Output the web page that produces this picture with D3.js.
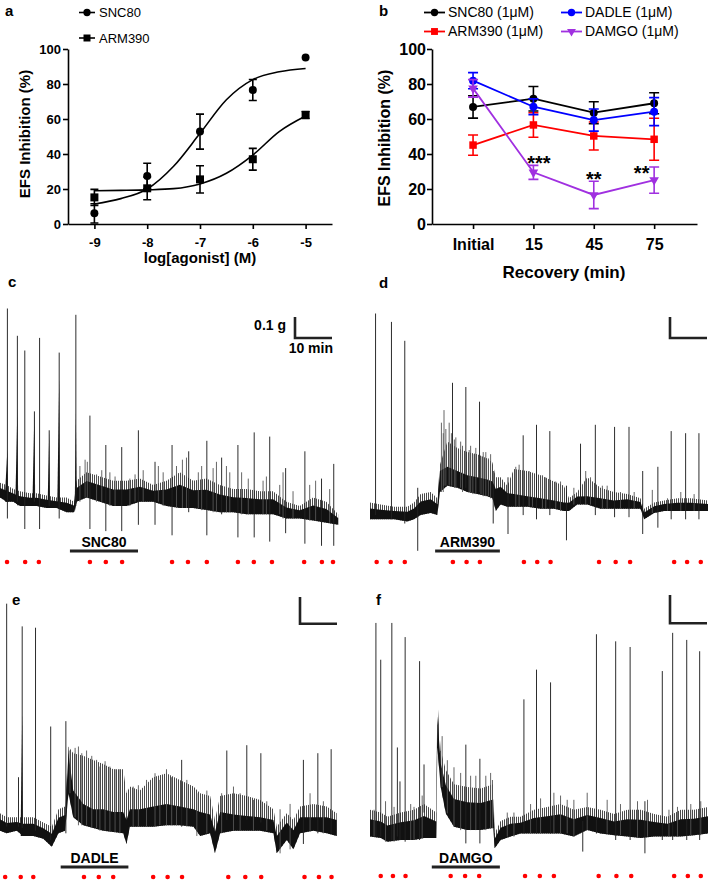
<!DOCTYPE html>
<html>
<head>
<meta charset="utf-8">
<script src="https://cdn.jsdelivr.net/npm/d3@7"></script>
<style>
  body { margin: 0; background: #fff; }
  svg text { font-family: "Liberation Sans", Arial, sans-serif; }
</style>
</head>
<body>
<svg id="fig" width="708" height="881"></svg>
<script>

// ---- panel a: concentration-response
let doses = [-9, -8, -7, -6, -5]
let snc80Mean = [6.1, 27.4, 52.8, 76.6, 95.2]
let snc80Err = [5.5, 7.3, 10, 6, 0]
let arm390Mean = [15.2, 20.4, 25.5, 37.0, 62.3]
let arm390Err = [4.6, 6.5, 7.8, 6.2, 2]
let fitDoses = [-9, -8.5, -8, -7.5, -7, -6.5, -6, -5.5, -5]
let snc80Fit = [11.4, 14.5, 20, 33, 51.8, 71, 82.5, 87, 88.9]
let arm390Fit = [19, 19.2, 19.5, 20.2, 22.9, 29, 39.4, 52.8, 61.7]
let pctTicks = [0, 20, 40, 60, 80, 100]

// ---- panel b: recovery
let times = ["Initial", "15", "45", "75"]
let sncRecMean = [66.9, 71.6, 63.6, 69.0]
let sncRecErr = [6.4, 7, 6.3, 6]
let armRecMean = [45.1, 56.6, 50.3, 48.4]
let armRecErr = [5.8, 7, 8, 12]
let dadleRecMean = [81.9, 67.0, 59.4, 64.2]
let dadleRecErr = [4.6, 4.5, 6.3, 8]
let damgoRecMean = [77.5, 29.5, 16.6, 25.1]
let damgoRecErr = [5, 4, 7.8, 7.5]
let starText = ["***", "**", "**"]
let starTime = [1, 2, 3]
let starValue = [37.7, 28.3, 31.7]

// ---- panels c-f: tension traces, time in min, tension in g
// band rows: [min, top g, bottom g, (dark core top g)]
let sncBand = [[0,0.32,0.25],[1.8,0.31,0.23],[3.6,0.29,0.23],[5.4,0.28,0.21],[8.1,0.27,0.21],[9.9,0.27,0.21],[12.6,0.26,0.20],[15.3,0.25,0.20],[18.0,0.25,0.18],[20.0,0.23,0.18],[20.7,0.33,0.23],[23.4,0.37,0.25],[27.0,0.35,0.23],[30.6,0.33,0.21],[34.2,0.33,0.21],[37.8,0.34,0.23],[41.4,0.31,0.23],[45.0,0.33,0.21],[48.6,0.37,0.20],[52.2,0.33,0.20],[55.8,0.34,0.19],[59.4,0.31,0.18],[63.0,0.29,0.18],[66.6,0.29,0.17],[70.2,0.28,0.17],[73.8,0.28,0.17],[77.4,0.23,0.15],[81.0,0.21,0.15],[84.6,0.25,0.14],[88.2,0.23,0.13],[91.4,0.17,0.12]]
let sncSpikes = [[2.0,1.15,0.15],[4.7,1.02,0.23],[6.7,0.95,0.10],[9.3,0.66,0.23],[10.7,1.01,0.10],[13.3,0.57,0.21],[16.0,0.94,0.15],[20.5,1.12,0.21],[24.3,0.64,0.10],[28.6,0.50,0.09],[32.9,0.49,0.09],[37.4,0.57,0.12],[41.9,0.42,0.12],[46.5,0.50,0.07],[51.0,0.47,0.18],[55.9,0.52,0.07],[59.9,0.44,0.17],[64.3,0.50,0.06],[68.7,0.56,0.06],[72.9,0.54,0.04],[77.2,0.39,0.08],[82.4,0.47,0.03],[86.9,0.34,0.02],[90.2,0.41,0.02]]
let sncMinor = [[21.6,0.40],[23.0,0.43],[23.6,0.42],[26.1,0.36],[27.5,0.38],[29.7,0.37],[31.1,0.35],[35.1,0.34],[36.5,0.36],[38.7,0.38],[42.8,0.40],[44.1,0.37],[47.7,0.40],[49.3,0.43],[50.4,0.44],[53.6,0.37],[54.5,0.40],[57.6,0.39],[58.5,0.42],[61.2,0.40],[62.1,0.37],[65.3,0.37],[67.1,0.34],[71.1,0.33],[72.0,0.35],[75.6,0.31],[76.5,0.37],[79.2,0.28],[83.7,0.31],[85.3,0.33],[89.1,0.29]]
let sncBumps = [[1.4,2.0,2.2,0.48],[4.2,4.7,4.9,0.68],[8.8,9.3,9.5,0.66],[12.9,13.3,13.5,0.56],[15.5,16.0,16.2,0.82],[20.2,20.5,20.7,0.65]]
let sncStim = [1.9,6.8,10.5,24.3,28.6,33.0,46.5,50.8,55.9,64.3,68.6,73.5,82.2,87.0,90.0]
let sncDrug = [18.9, 37.3]

let armBand = [[0,0.25,0.17],[2.9,0.24,0.17],[6.5,0.23,0.17],[10.1,0.23,0.16],[11.9,0.25,0.17],[13.7,0.29,0.19],[16.4,0.30,0.20],[18.2,0.27,0.19],[18.9,0.43,0.30,0.40],[20.9,0.54,0.33,0.42],[23.6,0.51,0.32,0.40],[26.3,0.49,0.30,0.38],[29.0,0.48,0.29,0.37],[31.7,0.46,0.28,0.36],[33.1,0.44,0.27,0.35],[34.0,0.37,0.21],[35.3,0.37,0.24],[37.1,0.33,0.23],[38.9,0.41,0.23,0.29],[42.5,0.40,0.23,0.28],[46.1,0.38,0.22,0.27],[49.7,0.35,0.22,0.26],[52.4,0.33,0.21,0.25],[53.8,0.27,0.21],[56.0,0.30,0.24],[58.7,0.37,0.24,0.28],[62.3,0.32,0.22,0.27],[65.9,0.30,0.22,0.26],[69.5,0.29,0.22],[73.1,0.27,0.22],[74.1,0.22,0.17],[76.8,0.25,0.20],[79.5,0.26,0.21],[83.1,0.27,0.21],[86.7,0.27,0.21],[91.4,0.26,0.21]]
let armSpikes = [[1.5,1.15,0.19],[5.8,1.11,0.17],[9.4,1.02,0.15],[12.9,0.32,0.02],[22.3,0.82,0.33],[25.9,0.80,0.32],[29.6,0.73,0.30],[33.3,0.40,0.15],[37.3,0.37,0.10],[41.4,0.57,0.19],[45.0,0.62,0.17],[48.6,0.59,0.19],[53.1,0.33,0.07],[56.9,0.53,0.24],[60.9,0.62,0.19],[66.1,0.61,0.18],[70.0,0.61,0.18],[73.7,0.40,0.10],[77.8,0.42,0.13],[81.4,0.59,0.17],[85.3,0.58,0.17],[88.9,0.58,0.17]]
let armMinor = [[19.3,0.63],[19.8,0.58],[20.0,0.69],[20.5,0.60],[21.4,0.63],[22.0,0.58],[22.8,0.55],[23.2,0.56],[24.5,0.54],[25.0,0.52],[26.8,0.50],[27.2,0.52],[27.8,0.48],[28.6,0.51],[30.0,0.47],[30.6,0.49],[31.3,0.49],[32.0,0.46],[32.6,0.48],[39.4,0.42],[40.3,0.43],[43.0,0.40],[43.9,0.38],[46.6,0.38],[47.5,0.37],[50.2,0.35],[51.5,0.35],[55.1,0.32],[58.3,0.40],[59.6,0.37],[62.8,0.33],[64.1,0.33],[67.7,0.30],[71.4,0.30],[76.3,0.31],[80.4,0.27],[84.0,0.30],[87.6,0.29]]
let armBumps = []
let armStim = [1.8,5.6,9.4,22.4,26.1,29.7,41.6,45.2,48.8,61.9,66.4,70.3,82.2,85.7,89.4]
let armDrug = [17.6, 35.1]

let dadleBand = [[0,0.175,0.11],[1.8,0.16,0.10],[4.5,0.16,0.11],[6.3,0.16,0.09],[9.0,0.16,0.09],[11.7,0.14,0.08],[14.0,0.125,0.05],[15.8,0.19,0.10],[17.6,0.20,0.11],[18.5,0.425,0.25,0.40],[19.8,0.40,0.16,0.26],[22.5,0.39,0.13,0.21],[25.2,0.375,0.12,0.19],[27.9,0.36,0.11,0.19],[30.6,0.34,0.105,0.18],[33.3,0.34,0.10,0.18],[34.2,0.25,0.06,0.15],[35.1,0.275,0.125,0.19],[37.8,0.26,0.125,0.19],[41.4,0.31,0.125,0.20],[45.0,0.325,0.13,0.21],[48.6,0.30,0.13,0.20],[52.3,0.275,0.125,0.19],[54.1,0.25,0.09,0.18],[56.8,0.24,0.10,0.17],[58.1,0.15,0.025],[59.5,0.24,0.10,0.18],[63.1,0.25,0.11,0.17],[66.7,0.24,0.11,0.165],[70.3,0.225,0.11,0.16],[73.9,0.19,0.10,0.15],[74.8,0.125,0.025],[77.5,0.175,0.075],[79.3,0.15,0.04],[81.1,0.20,0.10,0.16],[84.7,0.21,0.11,0.16],[88.3,0.20,0.10,0.16],[91.0,0.175,0.09,0.15]]
let dadleSpikes = [[1.8,0.96,0.125],[5.0,0.31,0.125],[6.0,0.875,0.12],[9.6,0.87,0.11],[13.7,0.50,0.075],[17.8,0.52,0.10],[49.1,0.375,0.125],[61.3,0.41,0.15],[66.7,0.43,0.15],[70.5,0.40,0.14],[82.0,0.375,0.06],[85.9,0.40,0.10],[89.5,0.415,0.10]]
let dadleMinor = [[18.9,0.41],[20.3,0.42],[21.2,0.425],[22.1,0.40],[23.4,0.41],[24.8,0.39],[26.1,0.375],[27.0,0.35],[28.4,0.37],[29.7,0.35],[31.1,0.34],[32.4,0.34],[36.0,0.275],[37.4,0.28],[39.6,0.30],[41.9,0.325],[43.2,0.30],[45.0,0.34],[46.4,0.31],[47.7,0.30],[50.5,0.30],[53.2,0.25],[55.9,0.26],[59.9,0.25],[63.1,0.275],[64.9,0.25],[68.5,0.225],[72.1,0.22],[75.7,0.19],[78.4,0.21],[83.8,0.25],[87.4,0.22]]
let dadleBumps = [[5.6,6.0,6.2,0.55]]
let dadleStim = [1.4,5.6,9.0,22.7,26.7,30.6,41.4,45.3,49.2,61.7,66.3,70.6,82.3,86.2,89.6]
let dadleDrug = [16.4, 34.7]

let damgoBand = [[0,0.16,0.065],[2.9,0.15,0.06],[4.7,0.135,0.047],[8.3,0.15,0.053],[11.9,0.16,0.053],[14.6,0.18,0.06],[17.9,0.15,0.06],[18.2,0.55,0.38],[19.1,0.37,0.24],[20.5,0.30,0.147],[22.7,0.25,0.10],[26.3,0.24,0.088],[29.9,0.235,0.088],[33.3,0.25,0.095],[33.7,0.076,0.024],[35.3,0.12,0.053],[38.0,0.135,0.065],[40.7,0.135,0.076],[44.3,0.16,0.076],[47.9,0.17,0.076],[51.5,0.18,0.076],[55.1,0.16,0.065],[58.7,0.17,0.088],[62.3,0.16,0.076],[66.0,0.145,0.07],[69.5,0.16,0.065],[73.2,0.16,0.06],[76.8,0.145,0.065],[80.4,0.135,0.065],[84.0,0.16,0.065],[87.6,0.16,0.07],[91.4,0.17,0.076]]
let damgoSpikes = [[1.6,0.82,0.065],[2.9,0.69,0.065],[5.9,0.82,0.053],[7.4,0.38,0.065],[8.1,0.26,0.053],[9.5,0.77,0.047],[13.4,0.685,0.053],[14.6,0.32,0.15],[25.9,0.39,0.041],[29.7,0.34,0.041],[41.6,0.55,0.076],[45.0,0.655,0.076],[48.8,0.61,0.076],[57.5,0.12,0.012],[61.2,0.78,0.076],[66.4,0.755,0.053],[70.3,0.735,0.053],[74.3,0.19,0.006],[79.0,0.65,0.053],[81.8,0.785,0.053],[85.6,0.76,0.053],[89.1,0.72,0.053]]
let damgoMinor = [[1.1,0.16],[4.2,0.19],[6.5,0.17],[11.0,0.18],[11.9,0.17],[14.1,0.21],[19.5,0.42],[20.9,0.335],[22.7,0.31],[24.5,0.29],[27.2,0.28],[28.6,0.28],[31.3,0.28],[32.6,0.29],[33.1,0.265],[37.1,0.15],[38.9,0.15],[43.4,0.18],[46.1,0.20],[49.7,0.22],[51.5,0.21],[53.3,0.195],[55.1,0.195],[58.7,0.22],[64.1,0.195],[67.7,0.18],[72.3,0.19],[75.0,0.195],[80.8,0.16],[83.1,0.17],[86.7,0.18],[89.4,0.19]]
let damgoBumps = []
let damgoStim = [2.9,6.2,9.6,21.8,25.7,29.5,41.9,45.9,49.7,61.8,66.6,70.6,82.2,85.9,89.4]
let damgoDrug = [16.7, 35.1]


let svg = d3.select("#fig")
let font = '"Liberation Sans", Arial, sans-serif'

// vertical comb used for the fast, greyish oscillations of the traces
svg.append("defs").append("pattern").attr("id", "comb")
  .attr("patternUnits", "userSpaceOnUse").attr("width", 2).attr("height", 20)
  .append("rect").attr("width", 1).attr("height", 20).attr("fill", "#4a4a4a")

function styleAxis(g, size) {
  g.attr("font-family", font).attr("font-size", size).attr("font-weight", "bold")
  g.select(".domain").attr("stroke", "#000").attr("stroke-width", 1.6)
  g.selectAll(".tick line").attr("stroke", "#000").attr("stroke-width", 1.6)
  g.selectAll(".tick text").attr("fill", "#000")
}

function errorBars(g, xs, y, means, errs, colour, cap) {
  means.forEach((m, i) => {
    if (!errs[i]) return
    let x = xs[i]
    g.append("path")
      .attr("d", `M${x},${y(m - errs[i])}V${y(m + errs[i])}M${x - cap},${y(m - errs[i])}h${2 * cap}M${x - cap},${y(m + errs[i])}h${2 * cap}`)
      .attr("stroke", colour).attr("stroke-width", 1.6).attr("fill", "none")
  })
}

function marker(g, shape, colour, x, y, size) {
  let sym = {circle: d3.symbolCircle, square: d3.symbolSquare, down: d3.symbolTriangle}[shape]
  g.append("path")
    .attr("d", d3.symbol(sym, size)())
    .attr("transform", `translate(${x},${y})` + (shape == "down" ? " rotate(180)" : ""))
    .attr("fill", colour)
}

function drawPanelA() {
  let x = d3.scaleLinear().domain([-9.5, -4.5]).range([68, 332])
  let y = d3.scaleLinear().domain([0, 100]).range([224, 49])
  let g = svg.append("g")

  let xa = g.append("g").attr("transform", "translate(0,224)")
    .call(d3.axisBottom(x).tickValues(doses).tickFormat(d => String(d)).tickSize(5).tickSizeOuter(0).tickPadding(9))
  styleAxis(xa, 13)
  let ya = g.append("g").attr("transform", "translate(68,0)")
    .call(d3.axisLeft(y).tickValues(pctTicks).tickSize(5).tickSizeOuter(0).tickPadding(2))
  styleAxis(ya, 13)

  let fit = d3.line().x((d, i) => x(fitDoses[i])).y(d => y(d)).curve(d3.curveMonotoneX)
  g.append("path").datum(snc80Fit).attr("d", fit).attr("fill", "none").attr("stroke", "#000").attr("stroke-width", 1.6)
  g.append("path").datum(arm390Fit).attr("d", fit).attr("fill", "none").attr("stroke", "#000").attr("stroke-width", 1.6)

  let xs = doses.map(d => x(d))
  errorBars(g, xs, y, snc80Mean, snc80Err, "#000", 4)
  errorBars(g, xs, y, arm390Mean, arm390Err, "#000", 4)
  snc80Mean.forEach((m, i) => marker(g, "circle", "#000", xs[i], y(m), 50))
  arm390Mean.forEach((m, i) => marker(g, "square", "#000", xs[i], y(m), 64))

  // legend
  g.append("line").attr("x1", 79).attr("x2", 95).attr("y1", 12.5).attr("y2", 12.5).attr("stroke", "#000").attr("stroke-width", 1.6)
  marker(g, "circle", "#000", 87, 12.5, 42)
  g.append("text").attr("x", 99).attr("y", 17).attr("font-size", 13).text("SNC80")
  g.append("line").attr("x1", 79).attr("x2", 95).attr("y1", 38).attr("y2", 38).attr("stroke", "#000").attr("stroke-width", 1.6)
  marker(g, "square", "#000", 87, 38, 49)
  g.append("text").attr("x", 99).attr("y", 43).attr("font-size", 13).text("ARM390")

  g.append("text").attr("transform", "translate(30,134) rotate(-90)").attr("text-anchor", "middle")
    .attr("font-size", 15).attr("font-weight", "bold").text("EFS Inhibition (%)")
  g.append("text").attr("x", 200).attr("y", 263).attr("text-anchor", "middle")
    .attr("font-size", 15).attr("font-weight", "bold").text("log[agonist] (M)")
  g.append("text").attr("x", 5).attr("y", 16).attr("font-size", 15).attr("font-weight", "bold").text("a")
}

function drawPanelB() {
  let x = d3.scaleLinear().domain([-0.68, 3.71]).range([432, 697])
  let y = d3.scaleLinear().domain([0, 100]).range([224, 49])
  let g = svg.append("g")

  let xa = g.append("g").attr("transform", "translate(0,224)")
    .call(d3.axisBottom(x).tickValues(d3.range(times.length)).tickFormat(i => times[i]).tickSize(5).tickSizeOuter(0).tickPadding(10))
  styleAxis(xa, 16)
  let ya = g.append("g").attr("transform", "translate(432,0)")
    .call(d3.axisLeft(y).tickValues(pctTicks).tickSize(5).tickSizeOuter(0).tickPadding(1))
  styleAxis(ya, 16)

  let series = [
    {name: "SNC80 (1\u03bcM)", colour: "#000000", shape: "circle", size: 50, mean: sncRecMean, err: sncRecErr},
    {name: "ARM390 (1\u03bcM)", colour: "#ff0000", shape: "square", size: 56, mean: armRecMean, err: armRecErr},
    {name: "DADLE (1\u03bcM)", colour: "#0000ff", shape: "circle", size: 50, mean: dadleRecMean, err: dadleRecErr},
    {name: "DAMGO (1\u03bcM)", colour: "#a030e0", shape: "down", size: 40, mean: damgoRecMean, err: damgoRecErr}
  ]
  let xs = times.map((t, i) => x(i))
  let line = d3.line().x((d, i) => xs[i]).y(d => y(d))
  series.forEach(s => {
    g.append("path").datum(s.mean).attr("d", line).attr("fill", "none").attr("stroke", s.colour).attr("stroke-width", 1.8)
    errorBars(g, xs, y, s.mean, s.err, s.colour, 5)
    s.mean.forEach((m, i) => marker(g, s.shape, s.colour, xs[i], y(m), s.size))
  })

  // significance marks
  let starDx = [5.5, 0, -12.5]
  starText.forEach((t, k) => {
    g.append("text").attr("x", x(starTime[k]) + starDx[k]).attr("y", y(starValue[k]) + 11.5)
      .attr("text-anchor", "middle").attr("font-size", 20).attr("font-weight", "bold").text(t)
  })

  // legend, two columns
  let legendPos = [[424, 12.5], [424, 31.5], [561, 12.5], [561, 31.5]]
  series.forEach((s, k) => {
    let [lx, ly] = legendPos[k]
    g.append("line").attr("x1", lx).attr("x2", lx + 21).attr("y1", ly).attr("y2", ly).attr("stroke", s.colour).attr("stroke-width", 1.8)
    marker(g, s.shape, s.colour, lx + 10.5, ly, s.size * 0.85)
    g.append("text").attr("x", lx + 24).attr("y", ly + 4.5).attr("font-size", 14).text(s.name)
  })

  g.append("text").attr("transform", "translate(390,138) rotate(-90)").attr("text-anchor", "middle")
    .attr("font-size", 16).attr("font-weight", "bold").text("EFS Inhibition (%)")
  g.append("text").attr("x", 564).attr("y", 278).attr("text-anchor", "middle")
    .attr("font-size", 17).attr("font-weight", "bold").text("Recovery (min)")
  g.append("text").attr("x", 379).attr("y", 16).attr("font-size", 15).attr("font-weight", "bold").text("b")
}

function drawTrace(tr, fr) {
  let x = d3.scaleLinear().domain([0, 10]).range([fr.x0, fr.x0 + 37])
  let y = d3.scaleLinear().domain([0, 0.1]).range([fr.y0, fr.y0 - fr.gain])
  let g = svg.append("g")
  // solid part of the noise band; the rest up to the top is drawn as a comb
  let core = d => d.length > 3 ? d[3] : d[2] + 0.65 * (d[1] - d[2])
  let near = t => tr.band[d3.bisector(d => d[0]).center(tr.band, t)]

  g.append("path").datum(tr.band)
    .attr("d", d3.area().x(d => x(d[0])).y0(d => y(d[2])).y1(d => y(d[1])))
    .attr("fill", "url(#comb)")
  g.append("path").datum(tr.band)
    .attr("d", d3.area().x(d => x(d[0])).y0(d => y(d[2])).y1(d => y(core(d))))
    .attr("fill", "#111")

  g.selectAll(".bump").data(tr.bumps).join("path").attr("class", "bump")
    .attr("d", d => d3.line()([
      [x(d[0]), y(core(near(d[0])))], [x(d[1]), y(d[3])], [x(d[2]), y(core(near(d[2])))],
      [x(d[2]), y(near(d[2])[2])], [x(d[0]), y(near(d[0])[2])]
    ]) + "Z")
    .attr("fill", "#111")

  g.selectAll(".minor").data(tr.minor).join("line").attr("class", "minor")
    .attr("x1", d => x(d[0])).attr("x2", d => x(d[0]))
    .attr("y1", d => y(d[1])).attr("y2", d => y(near(d[0])[2]))
    .attr("stroke", "#555").attr("stroke-width", 0.9)

  g.selectAll(".spike").data(tr.spikes).join("line").attr("class", "spike")
    .attr("x1", d => x(d[0])).attr("x2", d => x(d[0]))
    .attr("y1", d => y(d[1])).attr("y2", d => y(d[2]))
    .attr("stroke", "#222").attr("stroke-width", 0.95)

  g.selectAll(".stim").data(tr.stim).join("circle").attr("class", "stim")
    .attr("cx", d => x(d)).attr("cy", fr.dotY).attr("r", 2.3).attr("fill", "#ff0000")

  g.append("line").attr("x1", x(tr.drug[0])).attr("x2", x(tr.drug[1]))
    .attr("y1", fr.barY).attr("y2", fr.barY).attr("stroke", "#222").attr("stroke-width", 3)
  g.append("text").attr("x", (x(tr.drug[0]) + x(tr.drug[1])) / 2).attr("y", fr.barY - 4)
    .attr("text-anchor", "middle").attr("font-size", 14).attr("font-weight", "bold").text(tr.label)

  // calibration: 0.1 g by 10 min
  let h = y(0) - y(0.1), w = x(10) - x(0)
  g.append("path").attr("d", `M${fr.sbX},${fr.sbY}V${fr.sbY + h}H${fr.sbX + w}`)
    .attr("fill", "none").attr("stroke", "#222").attr("stroke-width", 2.6)
  if (fr.sbText) {
    g.append("text").attr("x", fr.sbX - 9).attr("y", fr.sbY + 13).attr("text-anchor", "end")
      .attr("font-size", 14).attr("font-weight", "bold").text("0.1 g")
    g.append("text").attr("x", fr.sbX + w + 1).attr("y", fr.sbY + h + 15).attr("text-anchor", "end")
      .attr("font-size", 14).attr("font-weight", "bold").text("10 min")
  }
  g.append("text").attr("x", fr.lx).attr("y", fr.ly).attr("font-size", 15).attr("font-weight", "bold").text(fr.letter)
}

drawPanelA()
drawPanelB()
drawTrace({band: sncBand, spikes: sncSpikes, minor: sncMinor, bumps: sncBumps, stim: sncStim, drug: sncDrug, label: "SNC80"},
  {x0: 0, y0: 550, gain: 21, dotY: 562, barY: 551, sbX: 295, sbY: 317, sbText: true, letter: "c", lx: 8, ly: 287})
drawTrace({band: armBand, spikes: armSpikes, minor: armMinor, bumps: armBumps, stim: armStim, drug: armDrug, label: "ARM390"},
  {x0: 370, y0: 555, gain: 21, dotY: 562, barY: 551, sbX: 670, sbY: 317, letter: "d", lx: 379, ly: 288})
drawTrace({band: dadleBand, spikes: dadleSpikes, minor: dadleMinor, bumps: dadleBumps, stim: dadleStim, drug: dadleDrug, label: "DADLE"},
  {x0: 0, y0: 860, gain: 26.7, dotY: 877, barY: 867, sbX: 300, sbY: 597, letter: "e", lx: 12, ly: 605})
drawTrace({band: damgoBand, spikes: damgoSpikes, minor: damgoMinor, bumps: damgoBumps, stim: damgoStim, drug: damgoDrug, label: "DAMGO"},
  {x0: 370, y0: 855, gain: 28.3, dotY: 876, barY: 867, sbX: 670, sbY: 595, letter: "f", lx: 376, ly: 605})

</script>
</body>
</html>
